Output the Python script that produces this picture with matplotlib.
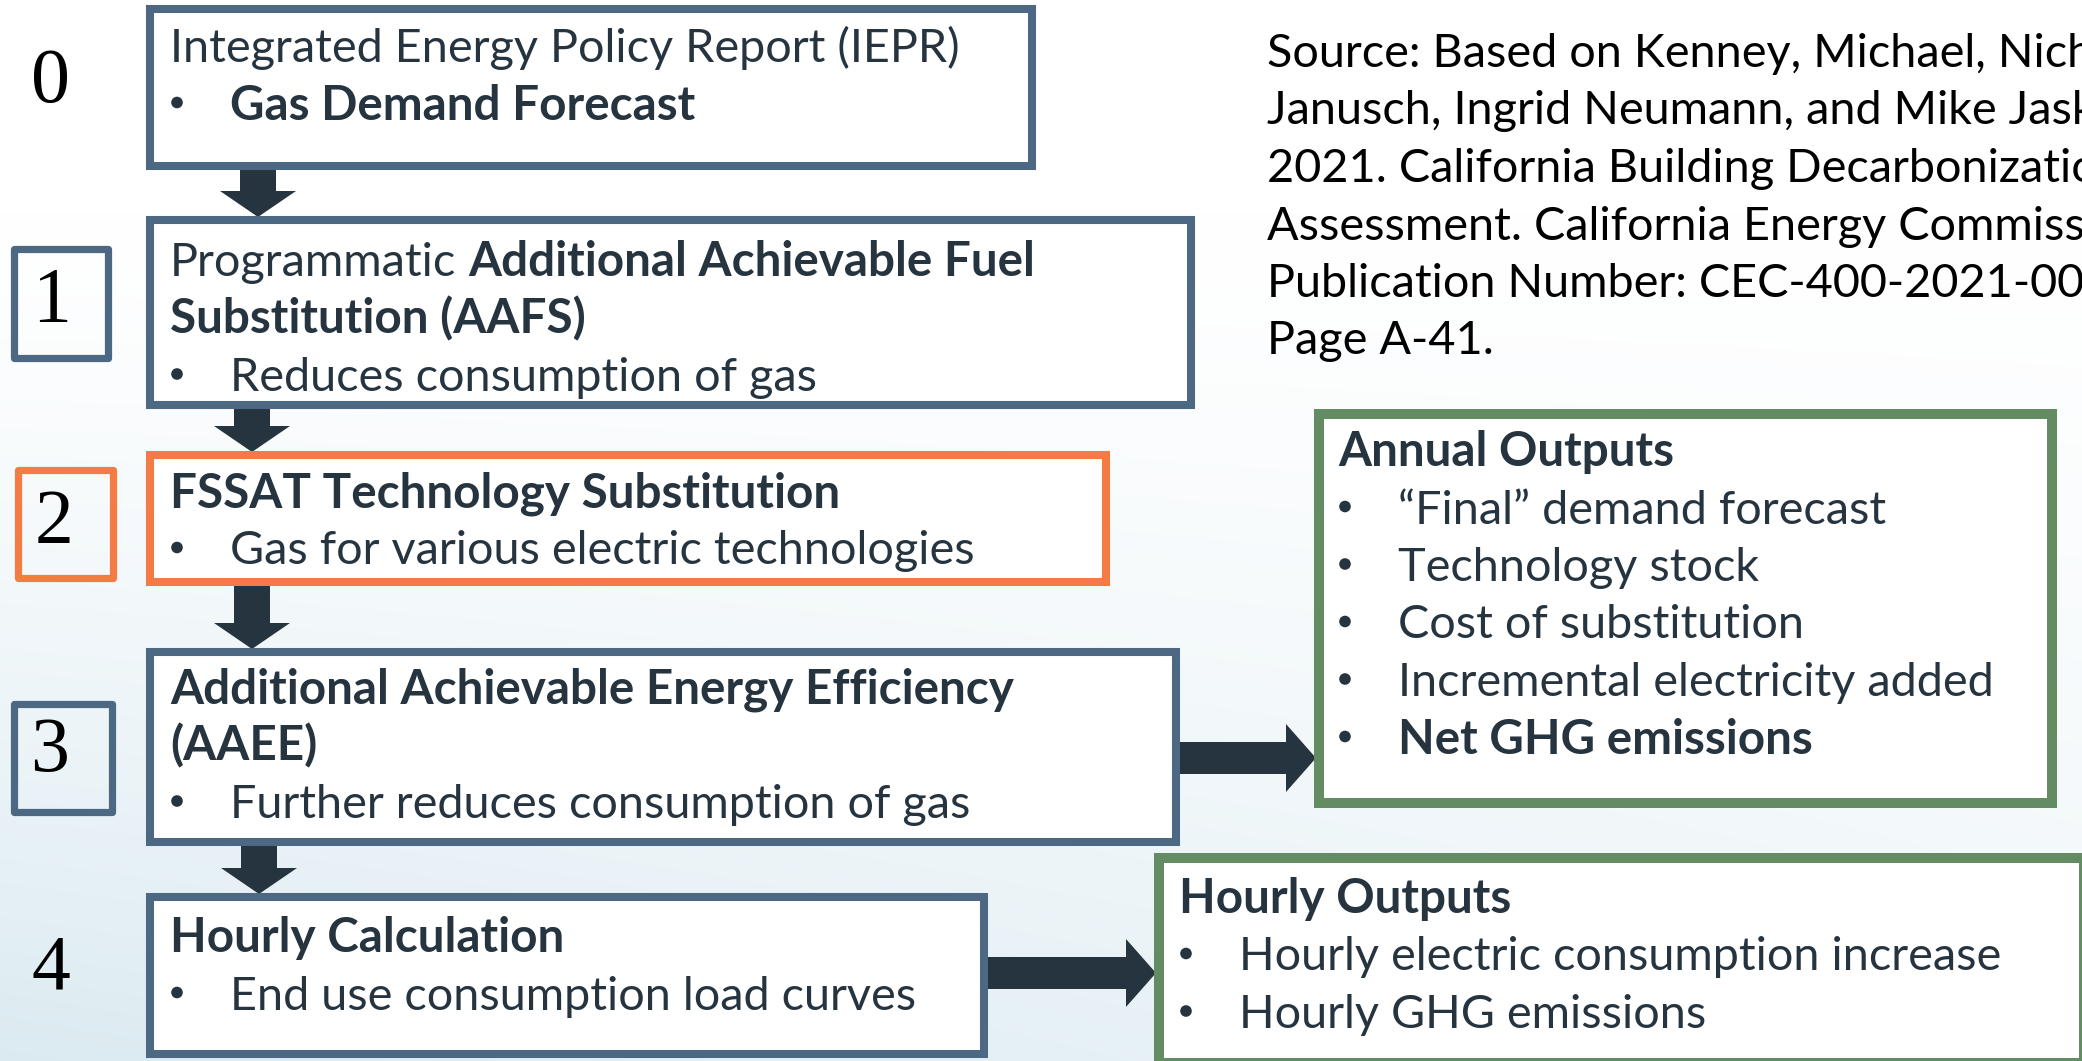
import numpy as np
import matplotlib; matplotlib.use("Agg")
import matplotlib.pyplot as plt
from matplotlib.patches import Rectangle, FancyArrow, Circle

W, H = 2082, 1061
FONT = "Lato"
INK = "#263440"; SLATE = "#4d6882"; ORANGE = "#f47c44"; GREEN = "#638c63"

# ---- content -------------------------------------------------------------
STEP_NUMBERS = ["0", "1", "2", "3", "4"]

# each line: (bullet?, [(text, bold), ...])
BOX0 = [(False, [("Integrated Energy Policy Report (IEPR)", False)]),
        (True,  [("Gas Demand Forecast", True)])]
BOX1 = [(False, [("Programmatic", False), ("Additional Achievable Fuel", True)]),
        (False, [("Substitution (AAFS)", True)]),
        (True,  [("Reduces consumption of gas", False)])]
BOX2 = [(False, [("FSSAT Technology Substitution", True)]),
        (True,  [("Gas for various electric technologies", False)])]
BOX3 = [(False, [("Additional Achievable Energy Efficiency", True)]),
        (False, [("(AAEE)", True)]),
        (True,  [("Further reduces consumption of gas", False)])]
BOX4 = [(False, [("Hourly Calculation", True)]),
        (True,  [("End use consumption load curves", False)])]
ANNUAL = [(False, [("Annual Outputs", True)]),
          (True,  [("\u201cFinal\u201d demand forecast", False)]),
          (True,  [("Technology stock", False)]),
          (True,  [("Cost of substitution", False)]),
          (True,  [("Incremental electricity added", False)]),
          (True,  [("Net GHG emissions", True)])]
HOURLY = [(False, [("Hourly Outputs", True)]),
          (True,  [("Hourly electric consumption increase", False)]),
          (True,  [("Hourly GHG emissions", False)])]
SOURCE = ["Source: Based on Kenney, Michael, Nicholas",
          "Janusch, Ingrid Neumann, and Mike Jaske.",
          "2021. California Building Decarbonization",
          "Assessment. California Energy Commission.",
          "Publication Number: CEC-400-2021-006-CMF.",
          "Page A-41."]

# ---- layout (pixels, y down) ----------------------------------------------
BOXES = [(150, 9, 1032, 166), (150, 220, 1191, 405), (150, 455, 1106, 582),
         (150, 652, 1176, 842), (150, 897, 984, 1054)]
BOX_COLORS = [SLATE, SLATE, ORANGE, SLATE, SLATE]
BOX_TEXT = [BOX0, BOX1, BOX2, BOX3, BOX4]
BOX_BASE = [62, 276, 507, 703, 952]
NUM_BOXES = [None, (14, 249, 108, 358), (18, 470, 113, 578), (14, 704, 112, 812), None]
NUM_XY = [(51, 83), (52, 302), (54, 524), (50, 752), (51, 970)]
OUT_BOXES = [(1319, 414, 2052, 803), (1159, 858, 2084, 1063)]
OUT_TEXT = [ANNUAL, HOURLY]
OUT_BASE = [466, 913]
OUT_X = [1338, 1179]
LINE_STEP = 57.5

fig = plt.figure(figsize=(W / 100, H / 100), dpi=100)
ax = fig.add_axes([0, 0, 1, 1])
ax.set_xlim(0, W); ax.set_ylim(H, 0); ax.axis("off")
renderer = fig.canvas.get_renderer()

# size the body text from the width of the first line in the slide (~790 px)
probe = ax.text(0, 0, BOX0[0][1][0][0], fontsize=20, family=FONT)
FS = 20 * 790 / probe.get_window_extent(renderer).width
probe.remove()

# soft background: white top, pale blue towards bottom-left
yy, xx = np.mgrid[0:H, 0:W]
t = np.clip((yy / H - 0.2) / 0.8, 0, 1) ** 1.3 * (1 - 0.55 * xx / W)
pale = np.array([0.86, 0.92, 0.945])
bg = 1 - t[..., None] * (1 - pale)
ax.imshow(bg, extent=[0, W, H, 0], aspect="auto", zorder=0)

def rect(b, color, lw, fill=True, join="miter"):
    x0, y0, x1, y1 = b
    ax.add_patch(Rectangle((x0, y0), x1 - x0, y1 - y0, facecolor="white" if fill else "none",
                           edgecolor=color, lw=lw, joinstyle=join, zorder=2))

def runs(x, y, parts):
    for s, bold in parts:
        tx = ax.text(x, y, s, fontsize=FS * (1.02 if bold else 1.0), family=FONT, color=INK,
                     va="baseline", fontweight="bold" if bold else "normal", zorder=3)
        x = tx.get_window_extent(renderer).x1 + FS * 0.35

def block(lines, x, base):
    for i, (bullet, parts) in enumerate(lines):
        y = base + i * LINE_STEP
        if bullet:
            ax.add_patch(Circle((x + 7, y - 17), 5.8, color=INK, lw=0, zorder=3))
            runs(x + 60, y, parts)
        else:
            runs(x, y, parts)

def arrow(x, y, dx, dy, w=36, hw=76, hl=26):
    ax.add_patch(FancyArrow(x, y, dx, dy, width=w, head_width=hw, head_length=hl,
                            length_includes_head=True, color=INK, lw=0, zorder=1))

# vertical arrows between steps, horizontal ones to the outputs
arrow(258, 166, 0, 51); arrow(252, 405, 0, 47); arrow(252, 582, 0, 67); arrow(259, 842, 0, 52)
arrow(1176, 758, 140, 0, 32, 68, 30)
arrow(984, 973, 172, 0, 32, 68, 30)

for b, c, lines, base in zip(BOXES, BOX_COLORS, BOX_TEXT, BOX_BASE):
    rect(b, c, 5.8)
    block(lines, 170, base)

for nb, c, (nx, ny), num in zip(NUM_BOXES, BOX_COLORS, NUM_XY, STEP_NUMBERS):
    if nb is not None:
        rect(nb, c, 5.2, fill=False, join="round")
    ax.text(nx, ny, num, fontsize=56, family="Liberation Serif",
            color="black", ha="center", va="center", zorder=3)

for b, lines, base, x in zip(OUT_BOXES, OUT_TEXT, OUT_BASE, OUT_X):
    rect(b, GREEN, 7.2)
    block(lines, x, base)

for i, s in enumerate(SOURCE):
    ax.text(1267, 67 + i * LINE_STEP, s, fontsize=FS, family=FONT, color="black",
            va="baseline", zorder=3)

fig.savefig("out.png", dpi=100)
